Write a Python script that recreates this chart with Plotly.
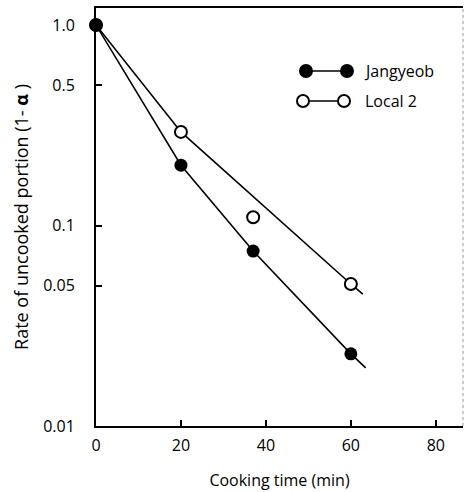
import plotly.graph_objects as go

# ---- data ----
time_pts = [0, 20, 37, 60]
jangyeob_vals = [1.0, 0.200, 0.0746, 0.0229]
local2_vals = [1.0, 0.293, 0.110, 0.0511]

# drawn lines (pass through points, extended a little past 60 min)
jang_line_x = [0, 20, 37, 60, 63.5]
jang_line_y = [1.0, 0.200, 0.0746, 0.0229, 0.0195]
local_line_x = [0, 20, 60, 62.8]
local_line_y = [1.0, 0.293, 0.0511, 0.0455]

x_ticks = [0, 20, 40, 60, 80]
y_ticks = [0.01, 0.05, 0.1, 0.5, 1.0]
y_ticktext = ["0.01", "0.05", "0.1", "0.5", "1.0"]

FONT = "Open Sans"
W, H = 466, 492
ML, MR, MT, MB = 96, 3, 8, 66
PW, PH = W - ML - MR, H - MT - MB


def f(size):
    return dict(family=FONT, size=size, color="black")


fig = go.Figure()
fig.add_trace(go.Scatter(x=local_line_x, y=local_line_y, mode="lines",
                         line=dict(color="black", width=1.6), showlegend=False,
                         hoverinfo="skip"))
fig.add_trace(go.Scatter(x=jang_line_x, y=jang_line_y, mode="lines",
                         line=dict(color="black", width=1.6), showlegend=False,
                         hoverinfo="skip"))
fig.add_trace(go.Scatter(x=time_pts, y=local2_vals, mode="markers", name="Local 2",
                         marker=dict(symbol="circle", size=12, color="white",
                                     line=dict(color="black", width=2)),
                         showlegend=False, cliponaxis=False))
fig.add_trace(go.Scatter(x=time_pts, y=jangyeob_vals, mode="markers", name="Jangyeob",
                         marker=dict(symbol="circle", size=13, color="black"),
                         showlegend=False, cliponaxis=False))


def px2paper(px, py):
    return (px - ML) / PW, (H - MB - py) / PH


shapes = []
# right border (faint, dotted)
shapes.append(dict(type="line", xref="paper", yref="paper", x0=1, x1=1, y0=0, y1=1,
                   line=dict(color="#999999", width=1, dash="dot")))

# hand-made legend
legend_rows = [
    ("Jangyeob", 71, 306, 347, "black", 362),
    ("Local 2", 101, 303, 344, "white", 363),
]
annotations = []
r = 6
for label, py, xa, xb, fill, tx in legend_rows:
    x0, y0 = px2paper(xa, py)
    x1, _ = px2paper(xb, py)
    shapes.append(dict(type="line", xref="paper", yref="paper", x0=x0, x1=x1, y0=y0, y1=y0,
                       line=dict(color="black", width=1.6)))
    for cx in (xa, xb):
        cxp, cyp = px2paper(cx, py)
        shapes.append(dict(type="circle", xref="paper", yref="paper",
                           x0=cxp - r / PW, x1=cxp + r / PW,
                           y0=cyp - r / PH, y1=cyp + r / PH,
                           fillcolor=fill, line=dict(color="black", width=2)))
    txp, typ = px2paper(tx, py)
    annotations.append(dict(text=label, xref="paper", yref="paper", x=txp, y=typ,
                            xanchor="left", yanchor="middle", showarrow=False,
                            font=f(16)))

fig.update_layout(
    width=W, height=H,
    margin=dict(l=ML, r=MR, t=MT, b=MB),
    plot_bgcolor="white", paper_bgcolor="white",
    font=f(15),
    shapes=shapes, annotations=annotations,
    showlegend=False,
    xaxis=dict(range=[0, 86.4], tickvals=x_ticks, ticks="inside", ticklen=6,
               tickwidth=1.5, tickcolor="black", showline=True, linecolor="black",
               linewidth=2, mirror=True, showgrid=False, zeroline=False,
               ticklabelstandoff=4,
               title=dict(text="Cooking time (min)", standoff=20, font=f(16)),
               tickfont=f(16)),
    yaxis=dict(type="log", range=[-2, 0.085], tickvals=y_ticks, ticktext=y_ticktext,
               ticks="inside", ticklen=6, tickwidth=1.5, tickcolor="black",
               showline=True, linecolor="black", linewidth=2, showgrid=False,
               zeroline=False, ticklabelstandoff=16,
               title=dict(text="Rate of uncooked portion (1- <b>α</b> )", standoff=10,
                          font=f(18)),
               tickfont=f(16)),
)

fig.write_html("out.html",
               config={"displayModeBar": False},
               post_script="document.body.style.margin='0';document.body.style.overflow='hidden';")
